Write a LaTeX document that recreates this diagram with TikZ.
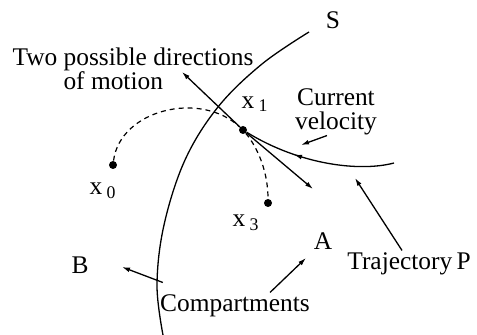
\documentclass[tikz,border=0pt]{standalone}
\usepackage{fontspec}
\setmainfont{Liberation Serif}
\usetikzlibrary{arrows.meta, positioning, decorations.markings}

\begin{document}
\begin{tikzpicture}[
    x=0.5pt, y=-0.5pt,
    txt/.style={inner sep=1pt, font=\fontsize{12.7}{12}\selectfont, align=center},
    dot/.style={circle, fill=black, inner sep=0pt, minimum size=4pt},
    line/.style={draw=black, line width=0.65pt},
    arr/.style={line, -{Latex[length=4pt, width=2.4pt]}},
    guess/.style={draw=black, line width=0.6pt, dash pattern=on 2.5pt off 2pt}
]
    \useasboundingbox (0,0) rectangle (477,335);

    % --- Points on the motion ---
    \node [dot] (x1) at (243,130) {};
    \node [dot] (x0) at (113,165) {};
    \node [dot] (x3) at (268,203) {};
    \coordinate (trajEnd) at (394,163);
    \coordinate (dirUp) at (182,72);
    \coordinate (dirDown) at (313,189);

    % --- Labels ---
    \node [txt] (lblS) at (333,20) {S};
    \node [txt] (lblx1) at (255,104) {x\,\textsubscript{1}};
    \node [txt] (lblx0) at (103,191) {x\,\textsubscript{0}};
    \node [txt] (lblx3) at (246,223) {x\,\textsubscript{3}};
    \node [txt] (lblA) at (323,241) {A};
    \node [txt] (lblB) at (80,265) {B};
    \node [txt, align=left] (dirs) at (133,69) {Two possible directions\\\hspace*{25.5pt}of motion};
    \node [txt] (curvel) at (336,112) {Current\\velocity};
    \node [txt] (traj) at (409,264) {Trajectory\,P};
    \node [txt] (comp) at (235,306) {Compartments};

    % Separating surface S
    \draw [line] plot [smooth, tension=0.6] coordinates {(309,32) (262,64) (218,107) (185,160) (164,225) (157,285) (163,335)};

    % Trajectory P, arriving at x1
    \draw [line, postaction={decorate}, decoration={markings,
        mark=at position 0.66 with {\arrow{Latex[length=4pt, width=2.4pt]}}}]
        (trajEnd) .. controls (360,172) and (300,165) .. (x1);

    % Two possible directions
    \draw [arr] (x1) -- (dirUp);
    \draw [arr] (x1) -- (dirDown);

    % Dashed alternatives
    \draw [guess] (x0) .. controls (120,110) and (200,90) .. (x1);
    \draw [guess] (x1) .. controls (258,148) and (268,172) .. (x3);

    % --- Pointers ---
    \coordinate (velTip) at (301,145);
    \coordinate (trajTip) at (355,178);
    \coordinate (tipB) at (122,267);
    \coordinate (tipA) at (306,258);
    \draw [arr] ([xshift=-4.5pt, yshift=1pt]curvel.south) -- (velTip);
    \draw [arr] ([xshift=-3.5pt]traj.north) -- (trajTip);
    \draw [arr] ([xshift=2.5pt, yshift=5pt]comp.north west) -- (tipB);
    \draw [arr] ([xshift=17.5pt]comp.north) -- (tipA);

\end{tikzpicture}
\end{document}
